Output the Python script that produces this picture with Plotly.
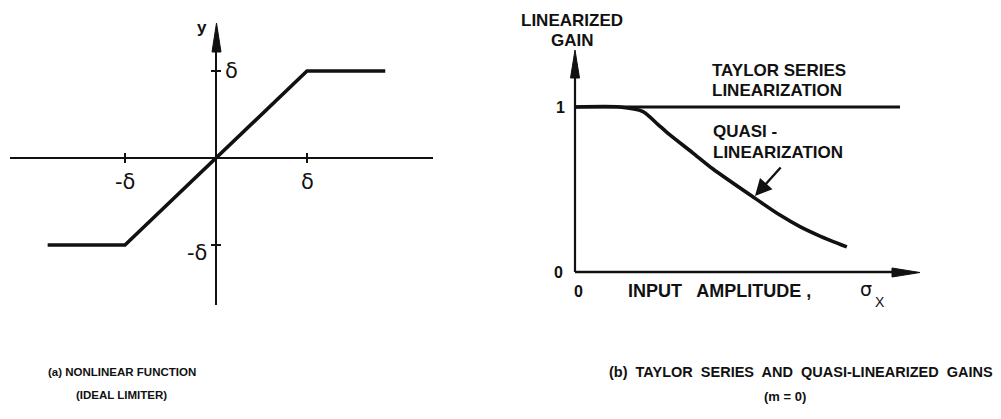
import plotly.graph_objects as go

# ---- data ---------------------------------------------------------------
# (a) ideal limiter, input/output in units of delta
limiter_x = [-1.85, -1.0, 1.0, 1.86]
limiter_y = [-1.0, -1.0, 1.0, 1.0]

# (b) linearized gain versus input amplitude sigma_x
taylor_sigma = [0.0, 9.42]
taylor_gain = [1.0, 1.0]

quasi_sigma = [0.0, 1.30, 1.97, 2.40, 2.67, 3.42, 4.00, 5.16, 5.94, 6.52, 7.10, 7.88]
quasi_gain = [1.0, 1.0, 0.972, 0.895, 0.845, 0.721, 0.624, 0.455, 0.345, 0.275, 0.218, 0.152]

delta_ticks = [-1.0, 1.0]
delta_tick_text_x = ["-δ", "δ"]
delta_tick_text_y = ["-δ", "δ"]
gain_ticks = [0, 1]

# ---- page geometry ------------------------------------------------------
W, H = 1001, 419
# left panel: origin pixel and pixels per delta
LX0, LY0, LSX, LSY = 216.0, 158.0, 91.0, 87.0
# right panel: origin pixel and pixels per unit
RX0, RY0, RSX, RSY = 575.0, 272.0, 34.5, 165.0
SPLIT = 0.5

def lx(px): return (px - LX0) / LSX
def ly(py): return (LY0 - py) / LSY
def rx(px): return (px - RX0) / RSX
def ry(py): return (RY0 - py) / RSY

BLACK = "#111111"
FONT = "Liberation Sans"

fig = go.Figure()

# axes of panel (a)
ax_left_x = [lx(10), lx(433)]
ax_left_y = [ly(305), ly(50)]
fig.add_trace(go.Scatter(x=ax_left_x, y=[0, 0], mode="lines",
                         line=dict(color=BLACK, width=2), xaxis="x", yaxis="y",
                         hoverinfo="skip"))
fig.add_trace(go.Scatter(x=[0, 0], y=ax_left_y, mode="lines",
                         line=dict(color=BLACK, width=2), xaxis="x", yaxis="y",
                         hoverinfo="skip"))
# limiter characteristic
fig.add_trace(go.Scatter(x=limiter_x, y=limiter_y, mode="lines",
                         line=dict(color=BLACK, width=3.6), xaxis="x", yaxis="y"))

# axes of panel (b)
fig.add_trace(go.Scatter(x=[0, 0], y=[0, ry(76)], mode="lines",
                         line=dict(color=BLACK, width=2.2), xaxis="x2", yaxis="y2",
                         hoverinfo="skip"))
fig.add_trace(go.Scatter(x=[0, rx(894)], y=[0, 0], mode="lines",
                         line=dict(color=BLACK, width=2.4), xaxis="x2", yaxis="y2",
                         hoverinfo="skip"))
# gains
fig.add_trace(go.Scatter(x=taylor_sigma, y=taylor_gain, mode="lines",
                         line=dict(color=BLACK, width=2.8), xaxis="x2", yaxis="y2"))
fig.add_trace(go.Scatter(x=quasi_sigma, y=quasi_gain, mode="lines",
                         line=dict(color=BLACK, width=3.6, shape="spline", smoothing=0.7),
                         xaxis="x2", yaxis="y2"))

shapes = []
# arrow heads as narrow filled triangles
def head(xref, yref, pts):
    path = "M " + " L ".join(f"{a},{b}" for a, b in pts) + " Z"
    shapes.append(dict(type="path", xref=xref, yref=yref, path=path,
                       fillcolor=BLACK, line=dict(color=BLACK, width=1)))

head("x", "y", [(lx(212), ly(52)), (lx(216.5), ly(23)), (lx(221), ly(52))])
head("x2", "y2", [(rx(570.5), ry(78)), (rx(575), ry(50)), (rx(579.5), ry(78))])
head("x2", "y2", [(rx(892), ry(268)), (rx(920), ry(272.5)), (rx(892), ry(277))])

# delta ticks on panel (a)
for t in delta_ticks:
    shapes.append(dict(type="line", xref="x", yref="y", x0=t, x1=t,
                       y0=ly(163), y1=ly(153), line=dict(color=BLACK, width=2)))
    shapes.append(dict(type="line", xref="x", yref="y", x0=lx(211), x1=lx(221),
                       y0=t, y1=t, line=dict(color=BLACK, width=2)))

ann = []
def text(s, x, y, xref, yref, size=17, xanchor="center", yanchor="middle",
         family=FONT, weight="bold"):
    ann.append(dict(text=s, x=x, y=y, xref=xref, yref=yref, showarrow=False,
                    xanchor=xanchor, yanchor=yanchor,
                    font=dict(family=family, size=size, color=BLACK, weight=weight)))

# panel (a) labels
text("y", lx(202), ly(27), "x", "y", size=17)
for t, s in zip(delta_ticks, delta_tick_text_x):
    text(s, t, ly(182), "x", "y", size=21, family="DejaVu Sans", weight="normal")
text(delta_tick_text_y[1], lx(223), 1.0, "x", "y", size=21, xanchor="left",
     family="DejaVu Sans", weight="normal")
text(delta_tick_text_y[0], lx(209), ly(253), "x", "y", size=21, xanchor="right",
     family="DejaVu Sans", weight="normal")

# panel (b) labels
text("LINEARIZED", rx(572), ry(20), "x2", "y2")
text("GAIN", rx(572), ry(40), "x2", "y2")
text(str(gain_ticks[1]), rx(567), gain_ticks[1], "x2", "y2", size=16, xanchor="right")
text(str(gain_ticks[0]), rx(565), gain_ticks[0], "x2", "y2", size=16, xanchor="right")
text("0", rx(578), ry(291), "x2", "y2", size=16)
text("INPUT   AMPLITUDE ,", rx(626), ry(291), "x2", "y2", size=18, xanchor="left")
text("σ", rx(866), ry(289), "x2", "y2", size=19, family="DejaVu Sans", weight="normal")
text("X", rx(880), ry(302), "x2", "y2", size=14, weight="normal")
text("TAYLOR SERIES", rx(710), ry(70), "x2", "y2", xanchor="left")
text("LINEARIZATION", rx(710), ry(90), "x2", "y2", xanchor="left")
text("QUASI -", rx(711), ry(131), "x2", "y2", xanchor="left")
text("LINEARIZATION", rx(711), ry(152), "x2", "y2", xanchor="left")

# pointer to the quasi-linearization curve
ann.append(dict(x=rx(755), y=ry(196), ax=rx(782), ay=ry(166), xref="x2", yref="y2",
                axref="x2", ayref="y2", showarrow=True, arrowhead=2, arrowsize=1.4,
                arrowwidth=2.4, arrowcolor=BLACK, text=""))

# captions
def cap(s, px, py, size=12, family=FONT):
    ann.append(dict(text=s, x=px / W, y=1 - py / H, xref="paper", yref="paper",
                    showarrow=False, xanchor="center", yanchor="middle",
                    font=dict(family=family, size=size, color=BLACK, weight="bold")))

cap("(a) NONLINEAR FUNCTION", 122, 372, 11.5)
cap("(IDEAL LIMITER)", 121, 395, 11.5)
cap("(b)  TAYLOR  SERIES  AND  QUASI-LINEARIZED  GAINS", 801, 372, 14.5)
cap("(m = 0)", 785, 396, 13)

fig.update_layout(
    width=W, height=H, margin=dict(l=0, r=0, t=0, b=0),
    paper_bgcolor="white", plot_bgcolor="white", showlegend=False,
    xaxis=dict(domain=[0, SPLIT], range=[lx(0), lx(W * SPLIT)], visible=False),
    yaxis=dict(domain=[0, 1], range=[ly(H), ly(0)], visible=False),
    xaxis2=dict(domain=[SPLIT, 1], range=[rx(W * SPLIT), rx(W)], visible=False),
    yaxis2=dict(domain=[0, 1], range=[ry(H), ry(0)], visible=False, anchor="x2"),
    shapes=shapes, annotations=ann,
)

fig.write_html("out.html")
